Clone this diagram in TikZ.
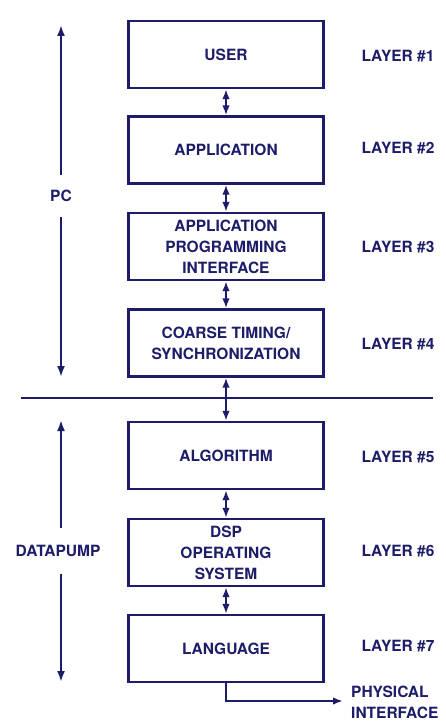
\documentclass[tikz,border=0pt]{standalone}
\usepackage{fontspec}
\setmainfont{TeX Gyre Heros}
\usetikzlibrary{arrows.meta}
\definecolor{ink}{RGB}{28,28,105}
\def\layerx{398}

\begin{document}
\begin{tikzpicture}[x=1pt,y=1pt,
    every node/.style={text=ink,font=\fontsize{15.5}{21}\selectfont\bfseries},
    layerbox/.style={draw=ink,line width=2.2pt,minimum width=195pt,minimum height=67pt,align=center,inner sep=2pt},
    dbl/.style={draw=ink,line width=2pt,{Latex[length=10pt,width=7.5pt]}-{Latex[length=10pt,width=7.5pt]}},
    side/.style={inner ysep=15pt},
    span/.style={draw=ink,line width=2pt}]
  \useasboundingbox (0,0) rectangle (445,-722);
  % the seven layers
  \node[layerbox] (user) at (226,-54.5) {USER};
  \node[layerbox] (app) at (226,-150) {APPLICATION};
  \node[layerbox] (api) at (226,-246.5) {APPLICATION\\PROGRAMMING\\INTERFACE};
  \node[layerbox] (timing) at (226,-343) {COARSE TIMING/\\SYNCHRONIZATION};
  \node[layerbox] (algo) at (226,-455.5) {ALGORITHM};
  \node[layerbox] (dsp) at (226,-552.5) {DSP\\OPERATING\\SYSTEM};
  \node[layerbox] (lang) at (226,-648.5) {LANGUAGE};
  \draw[dbl] (user) -- (app);
  \draw[dbl] (app) -- (api);
  \draw[dbl] (api) -- (timing);
  \draw[dbl] (timing) -- (algo);
  \draw[dbl] (algo) -- (dsp);
  \draw[dbl] (dsp) -- (lang);
  % layer numbers
  \node (l1) at (\layerx,-56) {LAYER \#1};
  \node (l2) at (\layerx,-148) {LAYER \#2};
  \node (l3) at (\layerx,-247) {LAYER \#3};
  \node (l4) at (\layerx,-344) {LAYER \#4};
  \node (l5) at (\layerx,-457) {LAYER \#5};
  \node (l6) at (\layerx,-551) {LAYER \#6};
  \node (l7) at (\layerx,-646) {LAYER \#7};
  % PC / datapump split
  \coordinate (splitL) at (21,-398);
  \coordinate (splitR) at (433,-398);
  \draw[ink,line width=2.2pt] (splitL) -- (splitR);
  \node[side] (pc) at (61,-196) {PC};
  \coordinate (pctop) at (61,-25);
  \coordinate (pcbot) at (61,-377);
  \draw[span,-{Latex[length=11pt,width=8pt]}] (pc) -- (pctop);
  \draw[span,-{Latex[length=11pt,width=8pt]}] (pc) -- (pcbot);
  \node[side,inner ysep=17pt] (pump) at (58,-551) {DATAPUMP};
  \coordinate (pumptop) at (61,-420);
  \coordinate (pumpbot) at (61,-682);
  \draw[span,-{Latex[length=11pt,width=8pt]}] (pump.north -| pumptop) -- (pumptop);
  \draw[span,-{Latex[length=11pt,width=8pt]}] (pump.south -| pumpbot) -- (pumpbot);
  % out to the line
  \node[align=left,anchor=west,inner sep=1pt] (phys) at (350,-702) {PHYSICAL\\INTERFACE};
  \draw[span,-{Latex[length=10pt,width=7.5pt]}] (lang.south) |- ([xshift=-7pt,yshift=1pt]phys.west);
\end{tikzpicture}
\end{document}
